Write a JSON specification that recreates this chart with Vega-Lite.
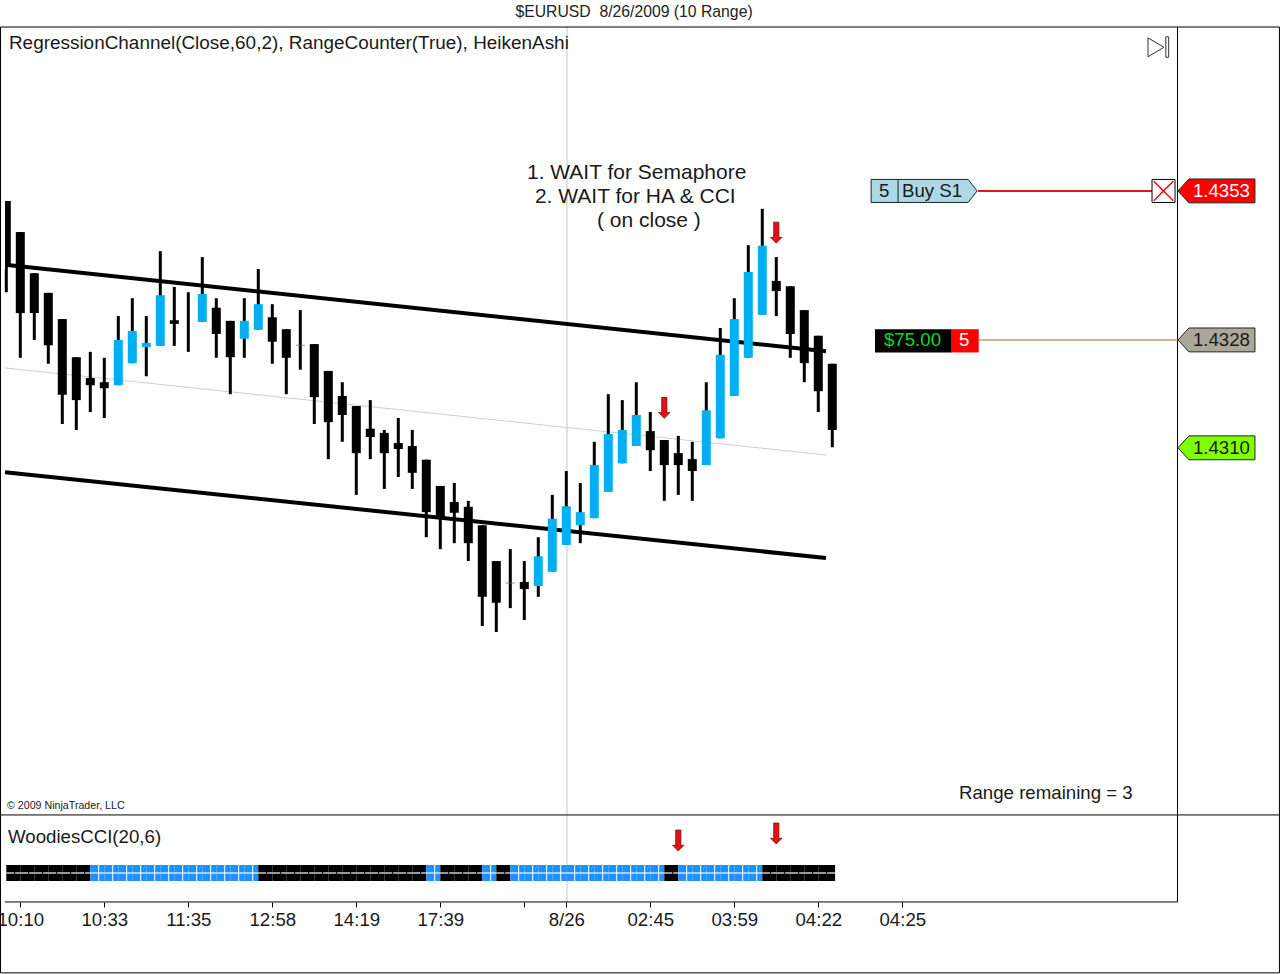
{
  "$schema": "https://vega.github.io/schema/vega-lite/v6.json",
  "width": 1280,
  "height": 974,
  "autosize": {"type": "none"},
  "padding": 0,
  "background": "white",
  "title": {"text": "$EURUSD \u00a08/26/2009 (10 Range)", "anchor": "middle", "dx": -6, "offset": -21, "font": "Liberation Sans", "fontSize": 15.75, "fontWeight": "normal", "color": "#222"},
  "config": {"view": {"stroke": null}, "font": "Liberation Sans", "text": {"font": "Liberation Sans", "fontSize": 18.67, "color": "#1a1a1a", "align": "left", "baseline": "middle"}},
  "datasets": {
    "candles": [
      {"bar": 0, "open": 1.43515, "high": 1.43515, "low": 1.43362, "close": 1.43406, "kind": "down"},
      {"bar": 1, "open": 1.43463, "high": 1.43463, "low": 1.43252, "close": 1.43327, "kind": "down"},
      {"bar": 2, "open": 1.43394, "high": 1.43394, "low": 1.43282, "close": 1.43327, "kind": "down"},
      {"bar": 3, "open": 1.43361, "high": 1.43361, "low": 1.43242, "close": 1.43273, "kind": "down"},
      {"bar": 4, "open": 1.43317, "high": 1.43317, "low": 1.43141, "close": 1.4319, "kind": "down"},
      {"bar": 5, "open": 1.43253, "high": 1.43253, "low": 1.43131, "close": 1.43181, "kind": "down"},
      {"bar": 6, "open": 1.43218, "high": 1.43262, "low": 1.43161, "close": 1.43206, "kind": "down"},
      {"bar": 7, "open": 1.43211, "high": 1.43252, "low": 1.43151, "close": 1.43201, "kind": "down"},
      {"bar": 8, "open": 1.43206, "high": 1.43322, "low": 1.43206, "close": 1.43282, "kind": "up"},
      {"bar": 9, "open": 1.43243, "high": 1.43352, "low": 1.43243, "close": 1.43297, "kind": "up"},
      {"bar": 10, "open": 1.4327, "high": 1.43322, "low": 1.43221, "close": 1.43277, "kind": "up"},
      {"bar": 11, "open": 1.43272, "high": 1.43431, "low": 1.43272, "close": 1.43357, "kind": "up"},
      {"bar": 12, "open": 1.43315, "high": 1.43371, "low": 1.43272, "close": 1.43309, "kind": "down"},
      {"bar": 13, "open": null, "high": 1.43362, "low": 1.43262, "close": null, "kind": "none"},
      {"bar": 14, "open": 1.43312, "high": 1.43421, "low": 1.43312, "close": 1.43359, "kind": "up"},
      {"bar": 15, "open": 1.43336, "high": 1.43352, "low": 1.43252, "close": 1.43292, "kind": "down"},
      {"bar": 16, "open": 1.43314, "high": 1.43314, "low": 1.43191, "close": 1.43253, "kind": "down"},
      {"bar": 17, "open": 1.43284, "high": 1.43352, "low": 1.43252, "close": 1.43314, "kind": "up"},
      {"bar": 18, "open": 1.43299, "high": 1.43401, "low": 1.43299, "close": 1.43342, "kind": "up"},
      {"bar": 19, "open": 1.4332, "high": 1.43342, "low": 1.43242, "close": 1.43279, "kind": "down"},
      {"bar": 20, "open": 1.433, "high": 1.433, "low": 1.43191, "close": 1.43252, "kind": "down"},
      {"bar": 21, "open": 1.43273, "high": 1.43332, "low": 1.43232, "close": 1.43273, "kind": "doji"},
      {"bar": 22, "open": 1.43275, "high": 1.43275, "low": 1.43141, "close": 1.43186, "kind": "down"},
      {"bar": 23, "open": 1.4323, "high": 1.4323, "low": 1.43082, "close": 1.43144, "kind": "down"},
      {"bar": 24, "open": 1.43188, "high": 1.43211, "low": 1.43111, "close": 1.43156, "kind": "down"},
      {"bar": 25, "open": 1.43171, "high": 1.43171, "low": 1.43022, "close": 1.43092, "kind": "down"},
      {"bar": 26, "open": 1.43133, "high": 1.43181, "low": 1.43082, "close": 1.43119, "kind": "down"},
      {"bar": 27, "open": 1.43126, "high": 1.43131, "low": 1.43032, "close": 1.43092, "kind": "down"},
      {"bar": 28, "open": 1.43109, "high": 1.43151, "low": 1.43052, "close": 1.43099, "kind": "down"},
      {"bar": 29, "open": 1.43104, "high": 1.43131, "low": 1.43032, "close": 1.43059, "kind": "down"},
      {"bar": 30, "open": 1.43081, "high": 1.43081, "low": 1.42951, "close": 1.42993, "kind": "down"},
      {"bar": 31, "open": 1.43037, "high": 1.43037, "low": 1.42931, "close": 1.42983, "kind": "down"},
      {"bar": 32, "open": 1.4301, "high": 1.43042, "low": 1.42941, "close": 1.42992, "kind": "down"},
      {"bar": 33, "open": 1.43002, "high": 1.43012, "low": 1.42911, "close": 1.42941, "kind": "down"},
      {"bar": 34, "open": 1.42971, "high": 1.42971, "low": 1.42802, "close": 1.42851, "kind": "down"},
      {"bar": 35, "open": 1.42911, "high": 1.42911, "low": 1.42792, "close": 1.42841, "kind": "down"},
      {"bar": 36, "open": 1.42874, "high": 1.42931, "low": 1.42832, "close": 1.42874, "kind": "doji"},
      {"bar": 37, "open": 1.42876, "high": 1.42911, "low": 1.42812, "close": 1.42864, "kind": "down"},
      {"bar": 38, "open": 1.42869, "high": 1.42951, "low": 1.42851, "close": 1.42919, "kind": "up"},
      {"bar": 39, "open": 1.42893, "high": 1.43022, "low": 1.42893, "close": 1.42982, "kind": "up"},
      {"bar": 40, "open": 1.42938, "high": 1.43062, "low": 1.42938, "close": 1.43003, "kind": "up"},
      {"bar": 41, "open": 1.42971, "high": 1.43042, "low": 1.42941, "close": 1.42993, "kind": "up"},
      {"bar": 42, "open": 1.42983, "high": 1.43111, "low": 1.42983, "close": 1.43072, "kind": "up"},
      {"bar": 43, "open": 1.43027, "high": 1.43191, "low": 1.43027, "close": 1.43124, "kind": "up"},
      {"bar": 44, "open": 1.43075, "high": 1.43181, "low": 1.43075, "close": 1.43131, "kind": "up"},
      {"bar": 45, "open": 1.43104, "high": 1.43211, "low": 1.43104, "close": 1.43156, "kind": "up"},
      {"bar": 46, "open": 1.43129, "high": 1.43161, "low": 1.43062, "close": 1.43097, "kind": "down"},
      {"bar": 47, "open": 1.43114, "high": 1.43114, "low": 1.43012, "close": 1.43072, "kind": "down"},
      {"bar": 48, "open": 1.43092, "high": 1.43121, "low": 1.43022, "close": 1.43072, "kind": "down"},
      {"bar": 49, "open": 1.43082, "high": 1.43111, "low": 1.43012, "close": 1.43062, "kind": "down"},
      {"bar": 50, "open": 1.43072, "high": 1.43211, "low": 1.43072, "close": 1.43164, "kind": "up"},
      {"bar": 51, "open": 1.43117, "high": 1.43302, "low": 1.43117, "close": 1.43257, "kind": "up"},
      {"bar": 52, "open": 1.43188, "high": 1.43352, "low": 1.43188, "close": 1.43317, "kind": "up"},
      {"bar": 53, "open": 1.43252, "high": 1.43441, "low": 1.43252, "close": 1.43396, "kind": "up"},
      {"bar": 54, "open": 1.43324, "high": 1.43502, "low": 1.43324, "close": 1.4344, "kind": "up"},
      {"bar": 55, "open": 1.43381, "high": 1.43421, "low": 1.43322, "close": 1.43364, "kind": "down"},
      {"bar": 56, "open": 1.43372, "high": 1.43372, "low": 1.43252, "close": 1.43292, "kind": "down"},
      {"bar": 57, "open": 1.43332, "high": 1.43332, "low": 1.43211, "close": 1.43243, "kind": "down"},
      {"bar": 58, "open": 1.43289, "high": 1.43289, "low": 1.43161, "close": 1.43196, "kind": "down"},
      {"bar": 59, "open": 1.43242, "high": 1.43242, "low": 1.43102, "close": 1.43131, "kind": "down"}
    ],
    "cci": [
      {"bar": 0, "bar2": 1, "mid": 0.6, "state": "down"},
      {"bar": 1, "bar2": 2, "mid": 1.6, "state": "down"},
      {"bar": 2, "bar2": 3, "mid": 2.6, "state": "down"},
      {"bar": 3, "bar2": 4, "mid": 3.6, "state": "down"},
      {"bar": 4, "bar2": 5, "mid": 4.6, "state": "down"},
      {"bar": 5, "bar2": 6, "mid": 5.6, "state": "down"},
      {"bar": 6, "bar2": 7, "mid": 6.6, "state": "up"},
      {"bar": 7, "bar2": 8, "mid": 7.6, "state": "up"},
      {"bar": 8, "bar2": 9, "mid": 8.6, "state": "up"},
      {"bar": 9, "bar2": 10, "mid": 9.6, "state": "up"},
      {"bar": 10, "bar2": 11, "mid": 10.6, "state": "up"},
      {"bar": 11, "bar2": 12, "mid": 11.6, "state": "up"},
      {"bar": 12, "bar2": 13, "mid": 12.6, "state": "up"},
      {"bar": 13, "bar2": 14, "mid": 13.6, "state": "up"},
      {"bar": 14, "bar2": 15, "mid": 14.6, "state": "up"},
      {"bar": 15, "bar2": 16, "mid": 15.6, "state": "up"},
      {"bar": 16, "bar2": 17, "mid": 16.6, "state": "up"},
      {"bar": 17, "bar2": 18, "mid": 17.6, "state": "up"},
      {"bar": 18, "bar2": 19, "mid": 18.6, "state": "down"},
      {"bar": 19, "bar2": 20, "mid": 19.6, "state": "down"},
      {"bar": 20, "bar2": 21, "mid": 20.6, "state": "down"},
      {"bar": 21, "bar2": 22, "mid": 21.6, "state": "down"},
      {"bar": 22, "bar2": 23, "mid": 22.6, "state": "down"},
      {"bar": 23, "bar2": 24, "mid": 23.6, "state": "down"},
      {"bar": 24, "bar2": 25, "mid": 24.6, "state": "down"},
      {"bar": 25, "bar2": 26, "mid": 25.6, "state": "down"},
      {"bar": 26, "bar2": 27, "mid": 26.6, "state": "down"},
      {"bar": 27, "bar2": 28, "mid": 27.6, "state": "down"},
      {"bar": 28, "bar2": 29, "mid": 28.6, "state": "down"},
      {"bar": 29, "bar2": 30, "mid": 29.6, "state": "down"},
      {"bar": 30, "bar2": 31, "mid": 30.6, "state": "up"},
      {"bar": 31, "bar2": 32, "mid": 31.6, "state": "down"},
      {"bar": 32, "bar2": 33, "mid": 32.6, "state": "down"},
      {"bar": 33, "bar2": 34, "mid": 33.6, "state": "down"},
      {"bar": 34, "bar2": 35, "mid": 34.6, "state": "up"},
      {"bar": 35, "bar2": 36, "mid": 35.6, "state": "down"},
      {"bar": 36, "bar2": 37, "mid": 36.6, "state": "up"},
      {"bar": 37, "bar2": 38, "mid": 37.6, "state": "up"},
      {"bar": 38, "bar2": 39, "mid": 38.6, "state": "up"},
      {"bar": 39, "bar2": 40, "mid": 39.6, "state": "up"},
      {"bar": 40, "bar2": 41, "mid": 40.6, "state": "up"},
      {"bar": 41, "bar2": 42, "mid": 41.6, "state": "up"},
      {"bar": 42, "bar2": 43, "mid": 42.6, "state": "up"},
      {"bar": 43, "bar2": 44, "mid": 43.6, "state": "up"},
      {"bar": 44, "bar2": 45, "mid": 44.6, "state": "up"},
      {"bar": 45, "bar2": 46, "mid": 45.6, "state": "up"},
      {"bar": 46, "bar2": 47, "mid": 46.6, "state": "up"},
      {"bar": 47, "bar2": 48, "mid": 47.6, "state": "down"},
      {"bar": 48, "bar2": 49, "mid": 48.6, "state": "up"},
      {"bar": 49, "bar2": 50, "mid": 49.6, "state": "up"},
      {"bar": 50, "bar2": 51, "mid": 50.6, "state": "up"},
      {"bar": 51, "bar2": 52, "mid": 51.6, "state": "up"},
      {"bar": 52, "bar2": 53, "mid": 52.6, "state": "up"},
      {"bar": 53, "bar2": 54, "mid": 53.6, "state": "up"},
      {"bar": 54, "bar2": 55, "mid": 54.6, "state": "down"},
      {"bar": 55, "bar2": 56, "mid": 55.6, "state": "down"},
      {"bar": 56, "bar2": 57, "mid": 56.6, "state": "down"},
      {"bar": 57, "bar2": 58, "mid": 57.6, "state": "down"},
      {"bar": 58, "bar2": 59.2, "mid": 58.6, "state": "down"}
    ],
    "channel": [
      {"series": "upper", "bar": -0.09, "price": 1.43408},
      {"series": "upper", "bar": 58.55, "price": 1.43263},
      {"series": "lower", "bar": -0.09, "price": 1.4306},
      {"series": "lower", "bar": 58.55, "price": 1.42916},
      {"series": "middle", "bar": -0.09, "price": 1.43235},
      {"series": "middle", "bar": 58.55, "price": 1.43089}
    ],
    "frame": [
      {"bar": -0.414, "bar2": 90.94, "price": 1.43807, "price2": 1.43807},
      {"bar": -0.414, "bar2": 90.94, "price": 1.42485, "price2": 1.42485},
      {"bar": -0.1, "bar2": 83.66, "price": 1.42339, "price2": 1.42339},
      {"bar": -0.414, "bar2": 90.94, "price": 1.4222, "price2": 1.4222},
      {"bar": -0.414, "bar2": -0.414, "price": 1.43807, "price2": 1.4222},
      {"bar": 90.94, "bar2": 90.94, "price": 1.43807, "price2": 1.4222},
      {"bar": 83.66, "bar2": 83.66, "price": 1.43807, "price2": 1.42339}
    ],
    "notes": [
      {"note": "Range remaining = 3", "bar": 68.05, "price": 1.42522},
      {"note": "5", "bar": 62.34, "price": 1.43532},
      {"note": "Buy S1", "bar": 63.98, "price": 1.43532},
      {"note": "1.4328", "bar": 84.76, "price": 1.43282},
      {"note": "1.4310", "bar": 84.76, "price": 1.43101}
    ],
    "instructions": [
      {"note": "1. WAIT for Semaphore", "bar": 37.19, "price": 1.43562},
      {"note": "2. WAIT for HA & CCI", "bar": 37.76, "price": 1.43521},
      {"note": "( on close )", "bar": 42.19, "price": 1.43481}
    ],
    "whiteNotes": [
      {"note": "1.4353", "bar": 84.76, "price": 1.43532},
      {"note": "5", "bar": 68.05, "price": 1.43282}
    ],
    "priceTags": [
      {"kind": "stop", "bar": 86.44, "price": 1.43532},
      {"kind": "position", "bar": 86.44, "price": 1.43282},
      {"kind": "target", "bar": 86.44, "price": 1.43101}
    ],
    "pnlBox": [
      {"kind": "pnl", "bar": 62.05, "bar2": 67.53, "price": 1.433, "price2": 1.43261},
      {"kind": "qty", "bar": 67.53, "bar2": 69.46, "price": 1.433, "price2": 1.43261}
    ]
  },
  "encoding": {
    "x": {
      "field": "bar",
      "type": "quantitative",
      "scale": {"domain": [-0.45, 90.98], "range": [0, 1280], "nice": false, "zero": false, "padding": 0},
      "axis": {
        "title": null,
        "orient": "bottom",
        "offset": -72,
        "grid": false,
        "domain": false,
        "values": [1, 7, 13, 19, 25, 31, 37, 40, 46, 52, 58, 64],
        "labelExpr": "{'1':'10:10','7':'10:33','13':'11:35','19':'12:58','25':'14:19','31':'17:39','37':'','40':'8/26','46':'02:45','52':'03:59','58':'04:22','64':'04:25'}[datum.value]",
        "tickColor": "#000",
        "tickSize": 5,
        "labelFont": "Liberation Sans",
        "labelFontSize": 18.67,
        "labelColor": "#1a1a1a",
        "labelPadding": 3,
        "labelFlush": false,
        "labelOverlap": false
      }
    }
  },
  "layer": [
    {
      "encoding": {
        "y": {
          "field": "price",
          "type": "quantitative",
          "scale": {"domain": [1.425, 1.435], "range": [806, 210], "nice": false, "zero": false},
          "axis": {
            "title": null,
            "orient": "right",
            "offset": -103,
            "grid": false,
            "domain": false,
            "values": [1.425, 1.43, 1.435],
            "format": ".4f",
            "tickColor": "#000",
            "tickSize": 5,
            "labelFont": "Liberation Sans",
            "labelFontSize": 18.67,
            "labelColor": "#1a1a1a",
            "labelPadding": 5
          }
        }
      },
      "layer": [
        {
          "data": {"values": [{"bar": 40.05, "bar2": 40.05, "price": 1.43807, "price2": 1.42339}]},
          "mark": {"type": "rule", "color": "#c4c4c4", "strokeWidth": 1},
          "encoding": {"x2": {"field": "bar2"}, "y2": {"field": "price2"}}
        },
        {
          "data": {"name": "channel"},
          "transform": [{"filter": "datum.series == 'middle'"}],
          "mark": {"type": "line", "color": "#cfcfcf", "strokeWidth": 1}
        },
        {
          "data": {"name": "channel"},
          "transform": [{"filter": "datum.series != 'middle'"}],
          "mark": {"type": "line", "color": "#000", "strokeWidth": 4},
          "encoding": {"detail": {"field": "series"}}
        },
        {
          "data": {"name": "frame"},
          "mark": {"type": "rule", "color": "#000", "strokeWidth": 1},
          "encoding": {"x2": {"field": "bar2"}, "y2": {"field": "price2"}}
        },
        {
          "data": {"name": "candles"},
          "mark": {"type": "rule", "color": "#000", "strokeWidth": 3},
          "encoding": {
            "y": {"field": "high", "type": "quantitative", "axis": null},
            "y2": {"field": "low"}
          }
        },
        {
          "data": {"name": "candles"},
          "transform": [{"filter": "datum.kind == 'up' || datum.kind == 'down'"}],
          "mark": {"type": "bar", "size": 9, "orient": "vertical"},
          "encoding": {
            "y": {"field": "open", "type": "quantitative", "axis": null},
            "y2": {"field": "close"},
            "color": {
              "field": "kind",
              "type": "nominal",
              "legend": null,
              "scale": {
                "domain": ["down", "up", "stop", "position", "target", "pnl", "qty"],
                "range": ["#000000", "#00B0F0", "#FF0000", "#ACA899", "#7FFF00", "#000000", "#FF0000"]
              }
            }
          }
        },
        {
          "data": {"values": [{"bar": -0.36, "bar2": -0.09, "price": 1.4353, "price2": 1.434}]},
          "mark": {"type": "rect", "color": "white"},
          "encoding": {"x2": {"field": "bar2"}, "y2": {"field": "price2"}}
        },
        {
          "data": {"name": "candles"},
          "transform": [{"filter": "datum.kind == 'doji'"}],
          "mark": {"type": "tick", "orient": "horizontal", "size": 9, "thickness": 1, "color": "#666"},
          "encoding": {"y": {"field": "open", "type": "quantitative", "axis": null}}
        },
        {
          "data": {"values": [{"bar": 69.4, "bar2": 81.86, "price": 1.43532}]},
          "mark": {"type": "rule", "color": "#E8141C", "strokeWidth": 2},
          "encoding": {"x2": {"field": "bar2"}}
        },
        {
          "data": {"values": [{"bar": 69.46, "bar2": 83.66, "price": 1.43282}]},
          "mark": {"type": "rule", "color": "#D2B48C", "strokeWidth": 2},
          "encoding": {"x2": {"field": "bar2"}}
        },
        {
          "data": {"values": [{"bar": 47, "price": 1.43168}, {"bar": 55, "price": 1.43462}]},
          "mark": {"type": "point", "filled": true, "opacity": 1, "size": 441, "color": "#E81010", "stroke": "#601010", "strokeWidth": 0.7, "shape": "M-0.25,-1 L0.25,-1 L0.25,0.45 L0.55,0.45 L0,1 L-0.55,0.45 L-0.25,0.45 Z"}
        },
        {
          "data": {"values": [{"order": "Buy S1", "bar": 65.56, "price": 1.43532}]},
          "mark": {"type": "point", "filled": true, "opacity": 1, "size": 11236, "color": "#ADD8E6", "stroke": "#222", "strokeWidth": 1, "shape": "M-1,-0.217 L0.83,-0.217 L1,0 L0.83,0.217 L-1,0.217 Z"}
        },
        {
          "data": {"values": [{"bar": 63.7, "bar2": 63.7, "price": 1.4355, "price2": 1.43512}]},
          "mark": {"type": "rule", "color": "#222", "strokeWidth": 1},
          "encoding": {"x2": {"field": "bar2"}, "y2": {"field": "price2"}}
        },
        {
          "data": {"values": [{"bar": 82.66, "price": 1.43532}]},
          "mark": {"type": "point", "shape": "square", "filled": true, "opacity": 1, "size": 529, "color": "white", "stroke": "#000", "strokeWidth": 1}
        },
        {
          "data": {"values": [{"bar": 82.66, "price": 1.43532}]},
          "mark": {"type": "point", "filled": false, "opacity": 1, "size": 529, "color": "#E8141C", "strokeWidth": 1.5, "shape": "M-0.85,-0.85 L0.85,0.85 M-0.85,0.85 L0.85,-0.85"}
        },
        {
          "data": {"values": [{"bar": 82.3, "price": 1.43773}]},
          "mark": {"type": "point", "filled": false, "opacity": 1, "size": 441, "color": "#333", "strokeWidth": 1, "shape": "M-1,-0.9 L0.52,0 L-1,0.9 Z M0.7,-1 L0.97,-1 L0.97,0.95 L0.7,0.95 Z"}
        },
        {
          "data": {"name": "priceTags"},
          "mark": {"type": "point", "filled": true, "opacity": 1, "size": 5929, "stroke": "#222", "strokeWidth": 1, "shape": "M-1,0 L-0.714,-0.31 L1,-0.31 L1,0.31 L-0.714,0.31 Z"},
          "encoding": {
            "color": {
              "field": "kind",
              "type": "nominal",
              "legend": null,
              "scale": {
                "domain": ["down", "up", "stop", "position", "target", "pnl", "qty"],
                "range": ["#000000", "#00B0F0", "#FF0000", "#ACA899", "#7FFF00", "#000000", "#FF0000"]
              }
            }
          }
        },
        {
          "data": {"name": "pnlBox"},
          "mark": {"type": "rect"},
          "encoding": {
            "x2": {"field": "bar2"},
            "y2": {"field": "price2"},
            "color": {
              "field": "kind",
              "type": "nominal",
              "legend": null,
              "scale": {
                "domain": ["down", "up", "stop", "position", "target", "pnl", "qty"],
                "range": ["#000000", "#00B0F0", "#FF0000", "#ACA899", "#7FFF00", "#000000", "#FF0000"]
              }
            }
          }
        },
        {
          "data": {"values": [{"note": "RegressionChannel(Close,60,2), RangeCounter(True), HeikenAshi", "bar": 0.19, "price": 1.4378}]},
          "mark": {"type": "text", "fontSize": 18.93},
          "encoding": {"text": {"field": "note"}}
        },
        {
          "data": {"name": "notes"},
          "mark": {"type": "text"},
          "encoding": {"text": {"field": "note"}}
        },
        {
          "data": {"name": "instructions"},
          "mark": {"type": "text", "fontSize": 21},
          "encoding": {"text": {"field": "note"}}
        },
        {
          "data": {"name": "whiteNotes"},
          "mark": {"type": "text", "color": "white"},
          "encoding": {"text": {"field": "note"}}
        },
        {
          "data": {"values": [{"note": "$75.00", "bar": 62.69, "price": 1.43282}]},
          "mark": {"type": "text", "color": "#00DD22"},
          "encoding": {"text": {"field": "note"}}
        },
        {
          "data": {"values": [{"note": "© 2009 NinjaTrader, LLC", "bar": 0.05, "price": 1.425}]},
          "mark": {"type": "text", "fontSize": 10.67},
          "encoding": {"text": {"field": "note"}}
        }
      ]
    },
    {
      "layer": [
        {
          "data": {"name": "cci"},
          "mark": {"type": "rect"},
          "encoding": {
            "x2": {"field": "bar2"},
            "y": {
              "datum": 80,
              "scale": {"domain": [-100, 100], "range": [883, 863], "nice": false, "zero": false},
              "axis": {
                "title": null,
                "orient": "right",
                "offset": -103,
                "grid": false,
                "domain": false,
                "values": [0],
                "tickColor": "#000",
                "tickSize": 5,
                "labelFont": "Liberation Sans",
                "labelFontSize": 18.67,
                "labelColor": "#1a1a1a",
                "labelPadding": 5
              }
            },
            "y2": {"datum": -80},
            "color": {
              "field": "state",
              "type": "nominal",
              "legend": null,
              "scale": {"domain": ["down", "up"], "range": ["#000000", "#1E90FF"]}
            }
          }
        },
        {
          "data": {"name": "cci"},
          "mark": {"type": "rule", "color": "white", "strokeWidth": 1.2},
          "encoding": {"x2": {"field": "bar2"}, "y": {"datum": 0, "axis": null}}
        },
        {
          "data": {"name": "cci"},
          "transform": [{"filter": "datum.state == 'up'"}],
          "mark": {"type": "rule", "color": "white", "strokeWidth": 1},
          "encoding": {"x": {"field": "mid", "type": "quantitative"}, "y": {"datum": 80, "axis": null}, "y2": {"datum": -80}}
        },
        {
          "data": {"name": "cci"},
          "transform": [{"filter": "datum.state == 'down'"}],
          "mark": {"type": "rule", "color": "black", "strokeWidth": 1},
          "encoding": {"x": {"field": "mid", "type": "quantitative"}, "y": {"datum": 20, "axis": null}, "y2": {"datum": -20}}
        },
        {
          "data": {"values": [{"bar": 48, "cci": 325}, {"bar": 55, "cci": 395}]},
          "mark": {"type": "point", "filled": true, "opacity": 1, "size": 441, "color": "#E81010", "stroke": "#601010", "strokeWidth": 0.7, "shape": "M-0.25,-1 L0.25,-1 L0.25,0.45 L0.55,0.45 L0,1 L-0.55,0.45 L-0.25,0.45 Z"},
          "encoding": {"y": {"field": "cci", "type": "quantitative", "axis": null}}
        },
        {
          "data": {"values": [{"note": "WoodiesCCI(20,6)", "bar": 0.12, "cci": 360}]},
          "mark": {"type": "text"},
          "encoding": {"y": {"field": "cci", "type": "quantitative", "axis": null}, "text": {"field": "note"}}
        }
      ]
    }
  ],
  "resolve": {"scale": {"y": "independent", "color": "independent"}}
}
